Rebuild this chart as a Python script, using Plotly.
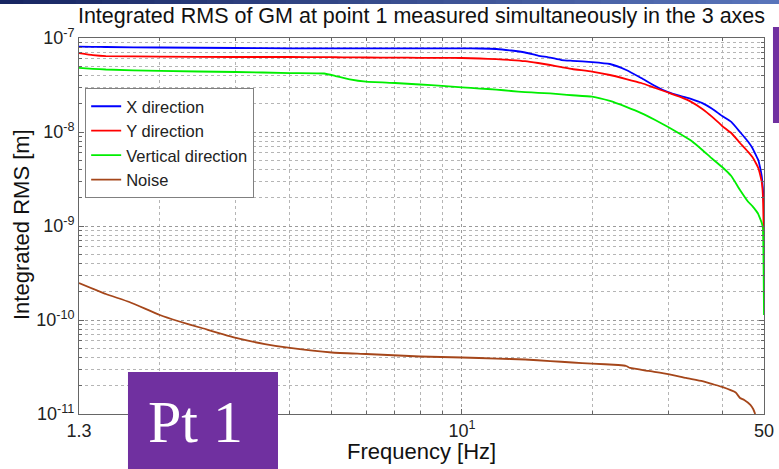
import plotly.graph_objects as go

# Frequency grid (Hz) shared by the three ground-motion directions
freq = [1.3, 1.4, 1.5, 2, 3, 4, 4.8, 5.1, 5.5, 6, 7, 8, 9, 10, 11, 12, 13, 14,
        15, 16, 17, 18, 20, 22, 24, 26, 28, 30, 32, 34, 36, 38, 40, 42, 44, 46,
        47, 48, 48.5, 49, 49.4, 49.7, 50]

# Integrated RMS [m]
rms_x = [8.08e-8, 8.05e-8, 8.02e-8, 7.92e-8, 7.83e-8, 7.77e-8, 7.77e-8, 7.77e-8,
         7.77e-8, 7.77e-8, 7.77e-8, 7.77e-8, 7.77e-8, 7.76e-8, 7.73e-8, 7.64e-8,
         7.36e-8, 7.01e-8, 6.51e-8, 6.20e-8, 5.83e-8, 5.72e-8, 5.55e-8, 5.29e-8,
         4.57e-8, 3.75e-8, 3.09e-8, 2.66e-8, 2.42e-8, 2.24e-8, 2.03e-8, 1.76e-8,
         1.48e-8, 1.28e-8, 1.00e-8, 7.83e-9, 6.76e-9, 5.55e-9, 5.04e-9, 4.14e-9,
         3.40e-9, 2.54e-9, 1.67e-9]
rms_y = [6.92e-8, 6.59e-8, 6.43e-8, 6.33e-8, 6.28e-8, 6.28e-8, 6.25e-8, 6.24e-8,
         6.23e-8, 6.20e-8, 6.18e-8, 6.16e-8, 6.14e-8, 6.13e-8, 6.05e-8, 5.95e-8,
         5.83e-8, 5.67e-8, 5.42e-8, 5.16e-8, 4.91e-8, 4.68e-8, 4.40e-8, 4.04e-8,
         3.66e-8, 3.32e-8, 2.94e-8, 2.63e-8, 2.36e-8, 2.08e-8, 1.76e-8, 1.44e-8,
         1.16e-8, 9.76e-9, 7.64e-9, 6.12e-9, 5.42e-9, 4.57e-9, 4.14e-9, 3.49e-9,
         2.94e-9, 2.14e-9, 5.98e-10]
rms_v = [4.80e-8, 4.70e-8, 4.62e-8, 4.46e-8, 4.35e-8, 4.24e-8, 4.19e-8, 3.94e-8,
         3.63e-8, 3.43e-8, 3.32e-8, 3.20e-8, 3.09e-8, 2.99e-8, 2.90e-8, 2.83e-8,
         2.73e-8, 2.66e-8, 2.61e-8, 2.57e-8, 2.51e-8, 2.46e-8, 2.38e-8, 2.14e-8,
         1.85e-8, 1.59e-8, 1.34e-8, 1.13e-8, 9.52e-9, 8.02e-9, 6.44e-9, 5.16e-9,
         4.24e-9, 3.40e-9, 2.42e-9, 1.80e-9, 1.63e-9, 1.44e-9, 1.34e-9, 1.19e-9,
         1.08e-9, 9.52e-10, 1.13e-10]

# Instrument noise floor
freq_noise = [1.3, 1.5, 1.7, 2, 2.2, 2.5, 3, 3.5, 4, 5, 6, 8, 10, 12, 14, 16,
              18, 20, 23, 24, 24.5, 27, 30, 33, 36, 38, 40, 43, 44, 45, 46.5,
              47.2, 47.7]
rms_noise = [2.475e-10, 1.89e-10, 1.554e-10, 1.13e-10, 9.76e-11, 8.22e-11,
             6.44e-11, 5.55e-11, 5.04e-11, 4.51e-11, 4.35e-11, 4.09e-11,
             3.99e-11, 3.89e-11, 3.80e-11, 3.66e-11, 3.53e-11, 3.44e-11,
             3.32e-11, 3.24e-11, 3.09e-11, 2.87e-11, 2.66e-11, 2.42e-11,
             2.24e-11, 2.08e-11, 1.94e-11, 1.69e-11, 1.48e-11, 1.41e-11,
             1.25e-11, 1.13e-11, 1.0e-11]

series = [
    ("X direction", freq, rms_x, "#0000FF"),
    ("Y direction", freq, rms_y, "#FF0000"),
    ("Vertical direction", freq, rms_v, "#00EE00"),
    ("Noise", freq_noise, rms_noise, "#A5461A"),
]

x_ticks = [1.3, 10, 50]
x_ticktext = ["1.3", "10<sup>1</sup>", "50"]
y_ticks = [1e-11, 1e-10, 1e-9, 1e-8, 1e-7]
y_ticktext = ["10<sup>-11</sup>", "10<sup>-10</sup>", "10<sup>-9</sup>",
              "10<sup>-8</sup>", "10<sup>-7</sup>"]
x_minor = [2, 3, 4, 5, 6, 7, 8, 9, 20, 30, 40]
y_minor = [m * 10.0 ** e for e in range(-11, -7) for m in range(2, 10)]

fig = go.Figure()
for name, xs, ys, col in series:
    fig.add_trace(go.Scatter(x=xs, y=ys, mode="lines", name=name,
                             line=dict(color=col, width=1.8, shape="spline",
                                       smoothing=0.4)))

font_main = "Liberation Sans, Arial, sans-serif"
axis_common = dict(
    type="log", automargin=False,
    showline=True, linecolor="#666666", linewidth=1, mirror="allticks",
    ticks="inside", ticklen=5, tickcolor="#666666",
    showgrid=True, gridcolor="#9a9a9a", griddash="dot", gridwidth=1,
    tickfont=dict(family=font_main, size=18, color="#222222"),
    zeroline=False,
)

fig.update_xaxes(
    **axis_common, range=[0.11394335, 1.69897], tickmode="array",
    tickvals=x_ticks, ticktext=x_ticktext,
    minor=dict(tickmode="array", tickvals=x_minor, showgrid=True,
               gridcolor="#b5b5b5", griddash="dot", ticks="inside", ticklen=3,
               tickcolor="#666666"),
)
fig.update_yaxes(
    **axis_common, range=[-11, -7], tickmode="array",
    tickvals=y_ticks, ticktext=y_ticktext,
    minor=dict(tickmode="array", tickvals=y_minor, showgrid=True,
               gridcolor="#b5b5b5", griddash="dot", ticks="inside", ticklen=3,
               tickcolor="#666666"),
)

shapes = []
# gradient header strip
n_seg = 30
c0, c1 = (24, 38, 98), (88, 116, 186)
x_start, x_end = -0.12, 1.03
for i in range(n_seg):
    t = i / (n_seg - 1)
    r, g, b = (round(a + (bb - a) * t) for a, bb in zip(c0, c1))
    shapes.append(dict(type="rect", xref="paper", yref="paper",
                       x0=x_start + (x_end - x_start) * i / n_seg,
                       x1=x_start + (x_end - x_start) * (i + 1) / n_seg + 0.002,
                       y0=1.0904, y1=1.12, line=dict(width=0),
                       fillcolor=f"rgb({r},{g},{b})", layer="above"))
# purple label boxes
shapes.append(dict(type="rect", xref="paper", yref="paper", x0=0.0715, x1=0.2905,
                   y0=-0.16, y1=0.1117, line=dict(width=0), fillcolor="#7030A0",
                   layer="above"))
shapes.append(dict(type="rect", xref="paper", yref="paper", x0=1.0131, x1=1.03,
                   y0=0.774, y1=1.029, line=dict(width=0), fillcolor="#7030A0",
                   layer="above"))

annotations = [
    dict(text="Pt 1", xref="paper", yref="paper", x=0.170, y=-0.02,
         xanchor="center", yanchor="middle", showarrow=False,
         font=dict(family="Liberation Serif, Times New Roman, serif", size=60,
                   color="white")),
    dict(text="Frequency [Hz]", xref="paper", yref="paper", x=0.5, y=-0.101,
         xanchor="center", yanchor="middle", showarrow=False,
         font=dict(family=font_main, size=22, color="#111111")),
    dict(text="Integrated RMS [m]", xref="paper", yref="paper", x=-0.083, y=0.503,
         xanchor="center", yanchor="middle", showarrow=False, textangle=-90,
         font=dict(family=font_main, size=22, color="#111111")),
]

fig.update_layout(
    width=779, height=469,
    margin=dict(l=79, r=15, t=38, b=55),
    paper_bgcolor="white", plot_bgcolor="white",
    title=dict(text="Integrated RMS of GM at point 1 measured simultaneously in the 3 axes",
               x=0.5, xref="paper", xanchor="center", y=0.966, yanchor="middle",
               font=dict(family=font_main, size=21.5, color="#111111")),
    legend=dict(x=0.009, y=0.867, xanchor="left", yanchor="top",
                bgcolor="white", bordercolor="#808080", borderwidth=1,
                font=dict(family=font_main, size=16.5, color="#222222"),
                itemwidth=30, tracegroupgap=0),
    shapes=shapes,
    annotations=annotations,
    showlegend=True,
)

fig.write_html("out.html")
